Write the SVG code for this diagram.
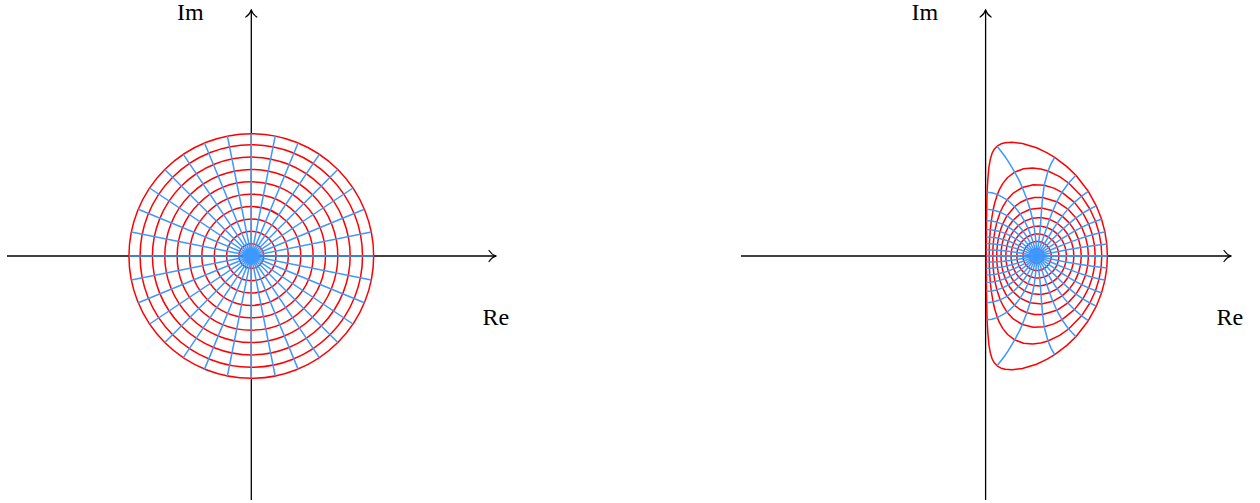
<svg xmlns="http://www.w3.org/2000/svg" xmlns:xlink="http://www.w3.org/1999/xlink" width="1260" height="503" viewBox="0 0 1260 503">
<style>
.ax{fill:none;stroke:#000;stroke-width:1.3}
.rc{fill:none;stroke:#ff0000;stroke-width:1.5;stroke-linejoin:round}
.bl{fill:none;stroke:#3d98ff;stroke-width:1.5;stroke-linejoin:round}
.lb{font-family:"Liberation Serif","Times New Roman",serif;font-size:24px;fill:#000}
</style>
<defs>
<marker id="ah" viewBox="-8 -7 9 14" markerWidth="9" markerHeight="14" refX="0" refY="0" orient="auto" markerUnits="userSpaceOnUse">
<path d="M-7,-5.5 C-5,-2.5 -2,-0.6 0,0 C-2,0.6 -5,2.5 -7,5.5" fill="none" stroke="#000" stroke-width="1.2" stroke-linecap="round"/>
</marker>
</defs>
<rect width="1260" height="503" fill="#fff"/>

<g id="axes-left">
<path class="ax" d="M7,256 H496" marker-end="url(#ah)"/>
<path class="ax" d="M251.3,500 V10" marker-end="url(#ah)"/>
<text class="lb" x="177" y="20">Im</text>
<text class="lb" x="482.5" y="325">Re</text>
</g>

<g id="grid-left">
<g class="rc">
<circle cx="251.3" cy="256" r="12.36"/>
<circle cx="251.3" cy="256" r="24.72"/>
<circle cx="251.3" cy="256" r="37.08"/>
<circle cx="251.3" cy="256" r="49.44"/>
<circle cx="251.3" cy="256" r="61.8"/>
<circle cx="251.3" cy="256" r="74.16"/>
<circle cx="251.3" cy="256" r="86.52"/>
<circle cx="251.3" cy="256" r="98.88"/>
<circle cx="251.3" cy="256" r="111.24"/>
<circle cx="251.3" cy="256" r="122.36"/>
</g>
<path class="bl" d="M128.9,256 L373.7,256 M131.3,279.9 L371.3,232.1 M138.3,302.8 L364.4,209.2 M149.6,324 L353,188 M164.8,342.5 L337.8,169.5 M183.3,357.7 L319.3,154.3 M204.5,369.1 L298.1,143 M227.4,376 L275.2,136 M251.3,378.4 L251.3,133.6 M275.2,376 L227.4,136 M298.1,369.1 L204.5,143 M319.3,357.7 L183.3,154.3 M337.8,342.5 L164.8,169.5 M353,324 L149.6,188 M364.4,302.8 L138.3,209.2 M371.3,279.9 L131.3,232.1"/>
</g>

<g id="axes-right">
<path class="ax" d="M741,256 H1231" marker-end="url(#ah)"/>
<path class="ax" d="M985.6,500 V10" marker-end="url(#ah)"/>
<text class="lb" x="911.5" y="20">Im</text>
<text class="lb" x="1216.5" y="325">Re</text>
</g>

<g id="grid-right">
<g id="upper-half">
<g class="rc">
<path d="M1043.8,256 L1043.7,254.6 1043.2,253.2 1042.5,251.9 1041.6,250.8 1040.5,249.9 1039.2,249.3 1037.8,248.9 1036.4,248.8 1035,249 1033.7,249.5 1032.5,250.2 1031.5,251.1 1030.6,252.2 1030,253.4 1029.7,254.7 1029.5,256"/>
<path d="M1051.3,256 L1051,253.1 1050.1,250.2 1048.7,247.6 1046.7,245.4 1044.4,243.6 1041.7,242.3 1038.8,241.6 1035.9,241.6 1033.1,242.1 1030.5,243.2 1028.3,244.7 1026.4,246.6 1024.9,248.7 1023.8,251 1023.2,253.5 1022.9,256"/>
<path d="M1058.9,256 L1058.4,251.6 1057.1,247.3 1055,243.3 1052,239.8 1048.4,237 1044.2,235 1039.7,234.1 1035.1,234.1 1030.8,235.2 1027,237 1023.8,239.5 1021.2,242.5 1019.2,245.7 1017.8,249 1017,252.5 1016.8,256"/>
<path d="M1066.4,256 L1065.9,250.1 1064.2,244.4 1061.4,239 1057.5,234.2 1052.6,230.2 1046.8,227.4 1040.4,226.1 1034,226.4 1028,228.2 1023,231.1 1018.9,234.8 1015.9,238.9 1013.7,243.1 1012.2,247.4 1011.3,251.7 1011,256"/>
<path d="M1073.9,256 L1073.3,248.7 1071.4,241.6 1068.1,234.8 1063.4,228.5 1057.2,223.2 1049.6,219.3 1041,217.5 1032.3,218.2 1024.6,221.1 1018.4,225.5 1013.8,230.6 1010.5,235.8 1008.3,241 1006.9,246.1 1006.1,251.1 1005.8,256"/>
<path d="M1081.3,256 L1080.6,247.5 1078.5,239.1 1074.9,230.9 1069.5,223.1 1062.2,216.1 1052.8,210.7 1041.7,208.1 1030.1,209.2 1020.2,213.9 1013.1,220.3 1008.3,227 1005.2,233.4 1003.2,239.4 1001.9,245.1 1001.2,250.6 1001,256"/>
<path d="M1088.4,256 L1087.7,246.4 1085.5,236.8 1081.7,227.3 1076,217.9 1067.9,209.1 1056.8,201.7 1042.6,197.5 1034.6,197.5 1026.9,199.3 1020.1,202.5 1014.6,206.7 1007,215.7 1002.6,224.1 1000,231.6 998.4,238.3 997.4,244.5 996.9,250.3 996.7,256"/>
<path d="M1095.2,256 L1094.5,245.5 1092.4,234.8 1088.7,224.1 1082.9,213.2 1074.4,202.4 1062,192.3 1053.9,188.1 1044.2,185.3 1033.3,184.7 1022.3,187.5 1013.3,193.1 1007.1,199.8 1003,206.3 1000.2,212.2 996.9,222.1 995,230.4 993.9,237.5 993.2,244 992.9,250.1 992.8,256"/>
<path d="M1101.8,256 L1101.1,244.7 1099.1,233.1 1095.5,221.3 1089.9,209 1081.5,196.2 1068.6,183 1059.6,176.6 1048,171 1040.8,169 1032.6,168 1023.6,168.8 1014.7,172.1 1007.6,177.5 1002.7,183.6 999.5,189.3 997.4,194.4 994.7,203 993.1,210 991.3,221 990.3,229.7 989.8,237.2 989.4,243.8 989.3,250 989.2,256"/>
<path d="M1107.4,256 L1106.8,244 1104.9,231.9 1101.6,219.2 1096.3,205.8 1088.3,191.3 1075.9,175.3 1066.9,166.6 1054.7,157.4 1046.7,152.6 1036.5,147.8 1022.4,143.5 1012.1,142.2 1005.1,142.7 1001.1,143.8 997.1,146.2 994,149.6 992.2,153 990.4,158.9 988.9,167.2 987.9,178.3 987.4,186.2 987.1,192.3 986.8,201.9 986.7,209.3 986.5,220.7 986.4,229.5 986.4,237.1 986.3,243.7 986.3,250 986.3,256"/>
</g>
<g class="bl">
<path d="M986.3,256 H1107.4"/>
<path d="M1036.5,256 L1043.7,254.6 1051,253.1 1058.4,251.6 1065.9,250.1 1073.3,248.7 1080.6,247.5 1087.7,246.4 1094.5,245.5 1101.1,244.7 1106.8,244"/>
<path d="M1036.5,256 L1043.2,253.2 1050.1,250.2 1057.1,247.3 1064.2,244.4 1071.4,241.6 1078.5,239.1 1085.5,236.8 1092.4,234.8 1099.1,233.1 1104.9,231.9"/>
<path d="M1036.5,256 L1042.5,251.9 1048.7,247.6 1055,243.3 1061.4,239 1068.1,234.8 1074.9,230.9 1081.7,227.3 1088.7,224.1 1095.5,221.3 1101.6,219.2"/>
<path d="M1036.5,256 L1041.6,250.8 1046.7,245.4 1052,239.8 1057.5,234.2 1063.4,228.5 1069.5,223.1 1076,217.9 1082.9,213.2 1089.9,209 1096.3,205.8"/>
<path d="M1036.5,256 L1040.5,249.9 1044.4,243.6 1048.4,237 1052.6,230.2 1057.2,223.2 1062.2,216.1 1067.9,209.1 1074.4,202.4 1081.5,196.2 1088.3,191.3"/>
<path d="M1036.5,256 L1039.2,249.3 1041.7,242.3 1044.2,235 1046.8,227.4 1049.6,219.3 1052.8,210.7 1056.8,201.7 1062,192.3 1068.6,183 1075.9,175.3"/>
<path d="M1036.5,256 L1037.8,248.9 1038.8,241.6 1039.7,234.1 1040.4,226.1 1041,217.5 1041.7,208.1 1042.6,197.5 1044.2,185.3 1048,171 1051.2,163.4 1054.7,157.4"/>
<path d="M1036.5,256 L1036.4,248.8 1035.9,241.6 1035.1,234.1 1034,226.4 1032.3,218.2 1030.1,209.2 1026.9,199.3 1022.3,187.5 1019.1,180.4 1014.7,172.1 1008.1,161.1 1003.9,155 997.1,146.2"/>
<path d="M1036.5,256 L1035,249 1033.1,242.1 1030.8,235.2 1028,228.2 1024.6,221.1 1020.2,213.9 1014.6,206.7 1007.1,199.8 997.4,194.4 991.8,192.8 987.1,192.3"/>
<path d="M1036.5,256 L1033.7,249.5 1030.5,243.2 1027,237 1023,231.1 1018.4,225.5 1013.1,220.3 1007,215.7 1000.2,212.2 993.1,210 986.7,209.3"/>
<path d="M1036.5,256 L1032.5,250.2 1028.3,244.7 1023.8,239.5 1018.9,234.8 1013.8,230.6 1008.3,227 1002.6,224.1 996.9,222.1 991.3,221 986.5,220.7"/>
<path d="M1036.5,256 L1031.5,251.1 1026.4,246.6 1021.2,242.5 1015.9,238.9 1010.5,235.8 1005.2,233.4 1000,231.6 995,230.4 990.3,229.7 986.4,229.5"/>
<path d="M1036.5,256 L1030.6,252.2 1024.9,248.7 1019.2,245.7 1013.7,243.1 1008.3,241 1003.2,239.4 998.4,238.3 993.9,237.5 989.8,237.2 986.4,237.1"/>
<path d="M1036.5,256 L1030,253.4 1023.8,251 1017.8,249 1012.2,247.4 1006.9,246.1 1001.9,245.1 997.4,244.5 993.2,244 989.4,243.8 986.3,243.7"/>
<path d="M1036.5,256 L1029.7,254.7 1023.2,253.5 1017,252.5 1011.3,251.7 1006.1,251.1 1001.2,250.6 996.9,250.3 992.9,250.1 989.3,250 986.3,250"/>
</g>
</g>
<use xlink:href="#upper-half" href="#upper-half" transform="matrix(1,0,0,-1,0,512)"/>
</g>
</svg>
